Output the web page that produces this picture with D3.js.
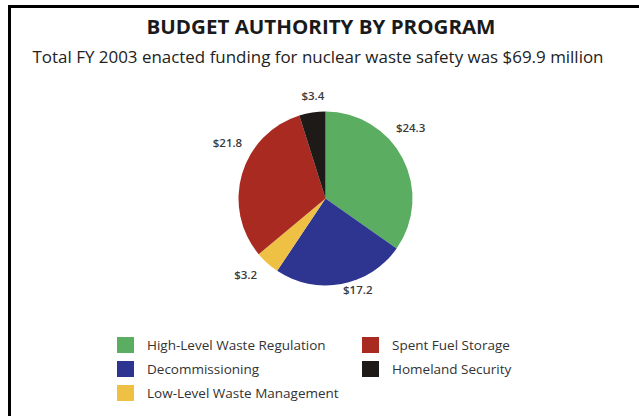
<!DOCTYPE html>
<html><head><meta charset="utf-8">
<script src="https://cdn.jsdelivr.net/npm/d3@7"></script>
<style>body{margin:0;background:#fff}svg{display:block}</style>
</head><body>
<script>
const programs = ["High-Level Waste Regulation","Decommissioning","Low-Level Waste Management","Spent Fuel Storage","Homeland Security"];
const values = [24.3, 17.2, 3.2, 21.8, 3.4];
const valueLabels = ["$24.3","$17.2","$3.2","$21.8","$3.4"];
const colors = ["#5aad61","#2d3590","#eec145","#a82a20","#1e1a18"];
const title = "BUDGET AUTHORITY BY PROGRAM";
const subtitle = "Total FY 2003 enacted funding for nuclear waste safety was $69.9 million";

const W = 639, H = 416;
const svg = d3.select("body").append("svg").attr("width", W).attr("height", H);
svg.append("rect").attr("width", W).attr("height", H).attr("fill", "#fff");
// frame (top + left)
svg.append("path").attr("d", `M9.5,416 V6.5 H639`).attr("fill","none").attr("stroke","#000").attr("stroke-width",3);

const font = "'Open Sans', sans-serif";
svg.append("text").attr("x", 321).attr("y", 34).attr("text-anchor","middle")
  .attr("font-family", font).attr("font-weight","bold").attr("font-size", 20).attr("fill","#1a1a1a")
  .attr("textLength", 349).attr("lengthAdjust","spacingAndGlyphs").text(title);
svg.append("text").attr("x", 318).attr("y", 63).attr("text-anchor","middle")
  .attr("font-family", font).attr("font-size", 15.5).attr("fill","#222")
  .attr("textLength", 571).attr("lengthAdjust","spacingAndGlyphs").text(subtitle);

const cx = 325.5, cy = 198.5, r = 87;
const pie = d3.pie().sort(null).value(d => d)(values);
const arc = d3.arc().innerRadius(0).outerRadius(r);
const g = svg.append("g").attr("transform", `translate(${cx},${cy})`);
g.selectAll("path").data(pie).join("path").attr("d", arc).attr("fill", (d,i) => colors[i]);

// label placement: fraction along each slice and distance from centre (annotation styling)
const labelFrac = [0.40, 0.40, 0.78, 0.62, 0.60];
const labelDist = [111, 97, 110, 113, 104];
g.selectAll("text").data(pie).join("text")
  .attr("transform", (d,i) => {
    const a = d.startAngle + (d.endAngle - d.startAngle) * labelFrac[i];
    return `translate(${labelDist[i] * Math.sin(a)},${-labelDist[i] * Math.cos(a)})`;
  })
  .attr("text-anchor","middle").attr("dominant-baseline","central")
  .attr("font-family", font).attr("font-size", 11.5).attr("font-weight", 600).attr("fill","#3a3a3a")
  .text((d,i) => valueLabels[i]);

// legend
const legX = [117, 362], legY = [337, 361, 385];
const order = [[0,0,0],[1,0,1],[2,0,2],[3,1,0],[4,1,1]];
const lg = svg.append("g");
order.forEach(([i,c,rw]) => {
  lg.append("rect").attr("x", legX[c]).attr("y", legY[rw]).attr("width", 17).attr("height", 16).attr("fill", colors[i]);
  lg.append("text").attr("x", legX[c] + 30).attr("y", legY[rw] + 13)
    .attr("font-family", font).attr("font-size", 13.5).attr("fill","#333").text(programs[i]);
});
</script>
</body></html>
